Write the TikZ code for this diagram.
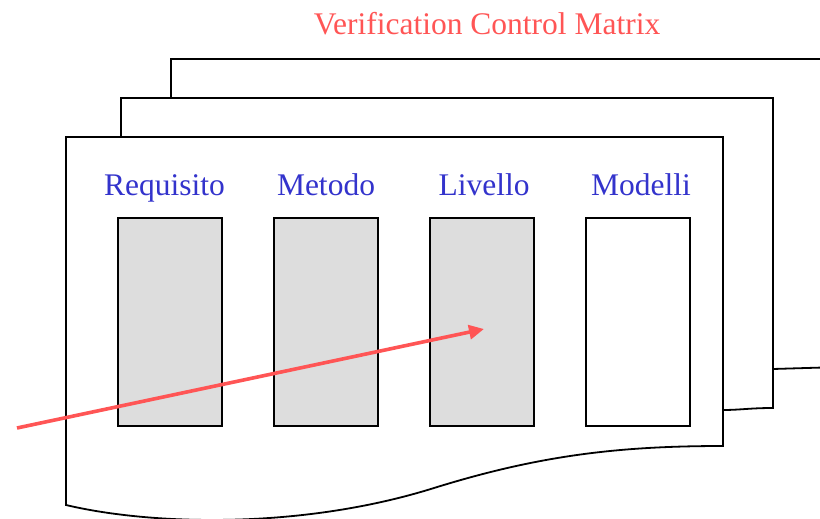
\documentclass[tikz,border=0pt]{standalone}
\usepackage{fontspec}
\setmainfont{Liberation Serif}
\usetikzlibrary{arrows.meta}
\definecolor{vred}{HTML}{FF5555}
\definecolor{vblue}{HTML}{3333CC}
\definecolor{vgray}{HTML}{DDDDDD}
\begin{document}
\begin{tikzpicture}[x=1pt,y=-1pt,
  sheet/.style={draw=black,fill=white,line width=1.8pt,line join=miter},
  col/.style={draw=black,line width=1.8pt,minimum width=104pt,minimum height=208pt,inner sep=0pt,outer sep=0pt},
  shaded/.style={col,fill=vgray},
  blank/.style={col,fill=white},
  head/.style={text=vblue,font=\fontsize{31.5}{34}\selectfont,anchor=base,inner sep=0pt},
  ttl/.style={text=vred,font=\fontsize{31.5}{34}\selectfont,anchor=base,inner sep=0pt},
  flow/.style={draw=vred,line width=3.6pt,-{Triangle[length=15pt,width=14pt]}}]
\useasboundingbox (0,0) rectangle (820,519);
\begin{scope}
\clip (0,0) rectangle (820,519);
% back sheet
\draw[sheet] (171,130) -- (171,59) -- (840,59) -- (840,367) -- (773,369) -- (773,130) -- cycle;
% middle sheet
\draw[sheet] (121,200) -- (121,98) -- (773,98) -- (773,408) .. controls (750,408) and (740,410) .. (723,410) -- (723,200) -- cycle;
% front sheet
\draw[sheet] (66,505) -- (66,137) -- (723,137) -- (723,446)
  .. controls (620,446) and (540,455) .. (434,488)
  .. controls (300,530) and (150,525) .. (66,505) -- cycle;
\end{scope}
\node[ttl] (title) at (487,35) {Verification Control Matrix};
\node[head] (hreq) at (164.5,195) {Requisito};
\node[head] (hmet) at (326,195) {Metodo};
\node[head] (hliv) at (484,195) {Livello};
\node[head] (hmod) at (641,195) {Modelli};
\node[shaded] (breq) at (170,322) {};
\node[shaded] (bmet) at (326,322) {};
\node[shaded] (bliv) at (482,322) {};
\node[blank]  (bmod) at (638,322) {};
\coordinate (astart) at (17,428);
\coordinate (aend) at (484,329);
\draw[flow] (astart) -- (aend);
\end{tikzpicture}
\end{document}
